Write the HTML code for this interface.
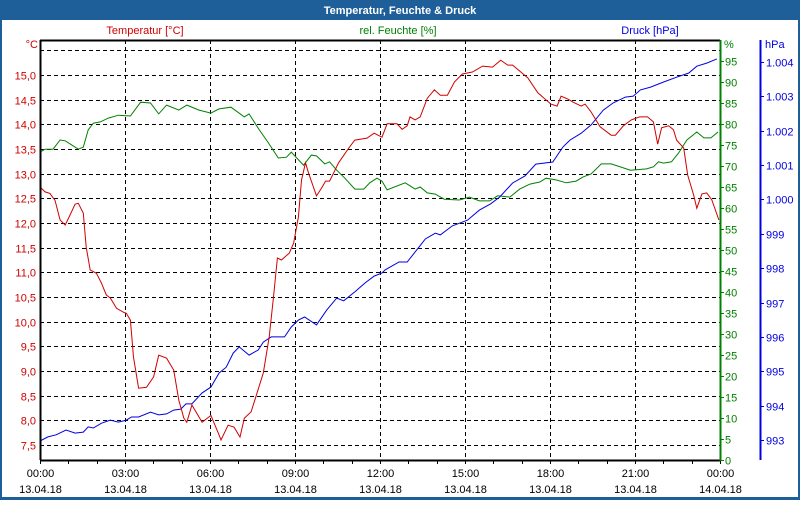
<!DOCTYPE html>
<html><head><meta charset="utf-8"><style>
body{margin:0;background:#fff;}
svg text{font-family:"Liberation Sans",sans-serif;font-size:11px;}
</style></head><body>
<svg id="chart" width="800" height="500" xmlns="http://www.w3.org/2000/svg">
<rect x="0" y="0" width="800" height="500" fill="#1f5f99"/>
<rect x="2" y="20" width="796" height="477" fill="#fff"/>
<text x="400" y="14" text-anchor="middle" fill="#fff" font-weight="bold" style="font-size:11px">Temperatur, Feuchte &amp; Druck</text>
<g id="grid"></g>
<g id="series"></g>
<g id="axes"></g>
</svg>
<script>
const tempHours=[0,0.18,0.35,0.53,0.71,0.89,1.06,1.24,1.35,1.53,1.63,1.77,1.99,2.17,2.34,2.48,2.70,2.95,3.05,3.19,3.30,3.48,3.76,4.01,4.19,4.47,4.72,4.90,5.08,5.18,5.36,5.72,6.03,6.32,6.39,6.64,6.85,7.06,7.21,7.45,7.88,8.09,8.24,8.38,8.52,8.80,8.95,9.12,9.23,9.37,9.48,9.76,9.94,10.08,10.22,10.54,10.90,11.11,11.54,11.79,12.07,12.25,12.60,12.78,12.96,13.06,13.24,13.42,13.67,13.92,14.13,14.38,14.63,14.91,15.26,15.62,15.97,16.26,16.51,16.68,16.97,17.22,17.57,18.03,18.25,18.39,18.64,18.81,19.10,19.24,19.45,19.77,20.16,20.31,20.59,20.87,21.16,21.44,21.65,21.80,21.94,22.19,22.36,22.47,22.72,22.86,23.07,23.18,23.36,23.53,23.71,23.96];
const tempValues=[12.73,12.63,12.6,12.46,12.06,11.96,12.16,12.38,12.40,12.20,11.51,11.05,10.98,10.78,10.54,10.48,10.27,10.19,10.17,10.03,9.28,8.65,8.67,8.88,9.32,9.26,9.02,8.41,8.04,7.96,8.31,7.96,8.10,7.70,7.60,7.90,7.86,7.66,8.04,8.17,8.96,9.69,10.50,11.29,11.25,11.39,11.59,12.12,12.87,13.22,13.01,12.55,12.71,12.85,12.85,13.22,13.52,13.68,13.72,13.82,13.74,14.01,14.01,13.90,13.97,14.15,14.09,14.15,14.53,14.70,14.59,14.59,14.86,15.02,15.06,15.18,15.16,15.30,15.20,15.20,15.06,14.94,14.64,14.41,14.37,14.57,14.51,14.45,14.37,14.41,14.25,13.95,13.78,13.78,13.97,14.09,14.15,14.15,14.05,13.60,13.93,13.97,13.89,13.68,13.52,12.97,12.57,12.30,12.59,12.61,12.47,12.06];
const humHours=[0,0.18,0.46,0.71,0.89,1.35,1.53,1.70,1.88,2.13,2.41,2.77,3.19,3.55,3.90,4.19,4.47,4.90,5.18,5.61,6.03,6.32,6.74,7.21,7.38,7.74,8.06,8.41,8.70,8.87,9.30,9.58,9.76,10.05,10.22,10.47,10.76,11.11,11.43,11.64,11.89,12.07,12.25,12.89,13.24,13.42,13.67,13.95,14.27,14.80,15.16,15.51,15.87,16.15,16.58,16.93,17.29,17.64,17.86,18.21,18.57,18.92,19.17,19.45,19.81,20.16,20.84,21.41,21.65,21.83,22.01,22.29,22.54,22.83,23.18,23.43,23.68,23.93];
const humValues=[73.3,74.0,74.0,76.2,76.0,74.0,74.5,78.6,80.2,80.5,81.4,82.1,81.9,85.2,85.0,82.4,84.5,83.3,84.5,83.3,82.6,83.6,84.0,81.7,82.4,78.6,75.5,71.9,72.1,73.3,70.2,72.6,72.4,70.5,71.0,69.0,67.1,64.5,64.5,66.0,67.1,66.4,64.3,66.0,64.5,65.0,63.6,63.3,62.1,61.9,62.6,61.7,61.7,62.9,62.6,64.5,65.7,66.2,67.1,66.7,66.0,66.4,67.4,68.1,70.5,70.5,69.0,69.3,69.8,71.0,70.7,71.0,73.1,76.2,78.1,76.7,76.7,78.1];
const presHours=[0,0.28,0.57,0.92,1.24,1.53,1.70,1.88,2.17,2.48,2.77,3.05,3.23,3.48,3.90,4.19,4.47,4.72,4.97,5.15,5.36,5.72,6.03,6.32,6.57,6.82,7.03,7.38,7.70,7.88,8.16,8.45,8.63,8.87,9.12,9.34,9.76,10.12,10.47,10.72,11.11,11.47,11.79,12.07,12.18,12.67,12.96,13.38,13.60,13.95,14.13,14.55,15.09,15.51,15.90,16.22,16.68,17.11,17.50,18.10,18.46,18.71,19.10,19.45,19.88,20.23,20.66,20.94,21.19,21.55,22.01,22.47,22.90,23.18,23.53,23.89];
const presValues=[992.97,993.09,993.15,993.29,993.20,993.23,993.38,993.35,993.49,993.58,993.52,993.58,993.67,993.67,993.81,993.73,993.76,993.87,993.90,994.05,994.05,994.37,994.54,994.95,995.12,995.53,995.71,995.47,995.62,995.85,996.00,996.00,996.00,996.29,996.49,996.58,996.35,996.78,997.13,997.05,997.31,997.57,997.77,997.86,997.95,998.18,998.18,998.62,998.85,999.02,998.97,999.23,999.40,999.69,999.87,1000.07,1000.48,1000.68,1001.03,1001.09,1001.53,1001.73,1001.93,1002.17,1002.60,1002.81,1002.98,1003.01,1003.19,1003.27,1003.42,1003.56,1003.68,1003.88,1003.97,1004.09];
const tempTicks=["7,5","8,0","8,5","9,0","9,5","10,0","10,5","11,0","11,5","12,0","12,5","13,0","13,5","14,0","14,5","15,0",""];
const humTicks=[0,5,10,15,20,25,30,35,40,45,50,55,60,65,70,75,80,85,90,95];
const presTicks=["993","994","995","996","997","998","999","1.000","1.001","1.002","1.003","1.004"];
const timeLabels=["00:00","03:00","06:00","09:00","12:00","15:00","18:00","21:00","00:00"];
const dateLabels=["13.04.18","13.04.18","13.04.18","13.04.18","13.04.18","13.04.18","13.04.18","13.04.18","14.04.18"];

const X0=40,X1=720,Y0=40,Y1=460;
const xS=h=>X0+h*(X1-X0)/24;
const yT=t=>75+(15-t)*49.33;
const yH=v=>Y1-v*4.2;
const yP=p=>440-(p-993)*34.36;
const NS="http://www.w3.org/2000/svg";
function mk(tag,parent,attrs){const e=document.createElementNS(NS,tag);for(const k in attrs)e.setAttribute(k,attrs[k]);parent.appendChild(e);return e;}
const grid=document.getElementById('grid'),ser=document.getElementById('series'),ax=document.getElementById('axes');

tempTicks.forEach((lab,i)=>{const t=7.5+i*0.5;const y=Math.round(yT(t))+0.5;
 const l=mk('line',grid,{x1:X0,x2:X1,y1:y,y2:y,stroke:'#000','stroke-dasharray':'4,3'});
 
 
 if(lab){const tx=mk('text',ax,{x:36,y:y+4,'text-anchor':'end',fill:'#d00000'});tx.textContent=lab;
 
 }
});
timeLabels.forEach((lab,i)=>{const x=Math.round(xS(i*3))+0.5;
 if(i>0&&i<8){const l=mk('line',grid,{x1:x,x2:x,y1:Y0,y2:Y1,stroke:'#000','stroke-dasharray':'4,3'});
 
 }
 const t1=mk('text',ax,{x:x,y:477,'text-anchor':'middle',fill:'#000'});t1.textContent=lab;
 
 
 const t2=mk('text',ax,{x:x,y:493,'text-anchor':'middle',fill:'#000'});t2.textContent=dateLabels[i];
 
 
});
for(let h=0;h<=24;h++){const x=Math.round(xS(h))+0.5;const l=mk('line',ax,{x1:x,x2:x,y1:Y1,y2:Y1+4,stroke:'#000'});
 
 }

function path(hours,vals,yf,color,name){let d='';hours.forEach((h,i)=>{d+=(i?'L':'M')+xS(h).toFixed(1)+','+yf(vals[i]).toFixed(1);});
 const p=mk('path',ser,{d:d,fill:'none',stroke:color,'stroke-width':1});
 
 }
path(humHours,humValues,yH,'#008000','humidity-line');
path(presHours,presValues,yP,'#0000e0','pressure-line');
path(tempHours,tempValues,yT,'#d00000','temperature-line');

[[X0+0.5,Y0,X0+0.5,Y1,'#000','left-axis'],[X0,Y0+0.5,X1,Y0+0.5,'#000','top-border'],[X0,Y1+0.5,X1+1,Y1+0.5,'#000','x-axis'],[X1+0.5,Y0,X1+0.5,Y1+1,'#008000','humidity-axis'],[760.5,Y0,760.5,Y1,'#0000e0','pressure-axis']].forEach(a=>{
 const l=mk('line',ax,{x1:a[0],y1:a[1],x2:a[2],y2:a[3],stroke:a[4],'stroke-width':2});
 
 });
humTicks.forEach(v=>{const y=Math.round(yH(v))+0.5;
 const l=mk('line',ax,{x1:X1,x2:X1+4,y1:y,y2:y,stroke:'#008000'});
 
 
 const t=mk('text',ax,{x:725,y:y+4,fill:'#008000'});t.textContent=v;
 
 });
presTicks.forEach((lab,i)=>{const y=Math.round(yP(993+i))+0.5;
 const l=mk('line',ax,{x1:760,x2:764,y1:y,y2:y,stroke:'#0000e0'});
 
 
 const t=mk('text',ax,{x:766,y:y+4,fill:'#0000e0'});t.textContent=lab;
 
 });
[[145,'Temperatur [°C]','#d00000','middle','temp-axis-title'],[398,'rel. Feuchte [%]','#008000','middle','humidity-axis-title'],[650,'Druck [hPa]','#0000e0','middle','pressure-axis-title'],[38,'°C','#d00000','end','temp-unit'],[724,'%','#008000','start','humidity-unit'],[765,'hPa','#0000e0','start','pressure-unit']].forEach(a=>{
 const t=mk('text',ax,{x:a[0],y:a[4].includes('unit')?48:34,fill:a[2],'text-anchor':a[3]});t.textContent=a[1];
 
 });
</script>
</body></html>
